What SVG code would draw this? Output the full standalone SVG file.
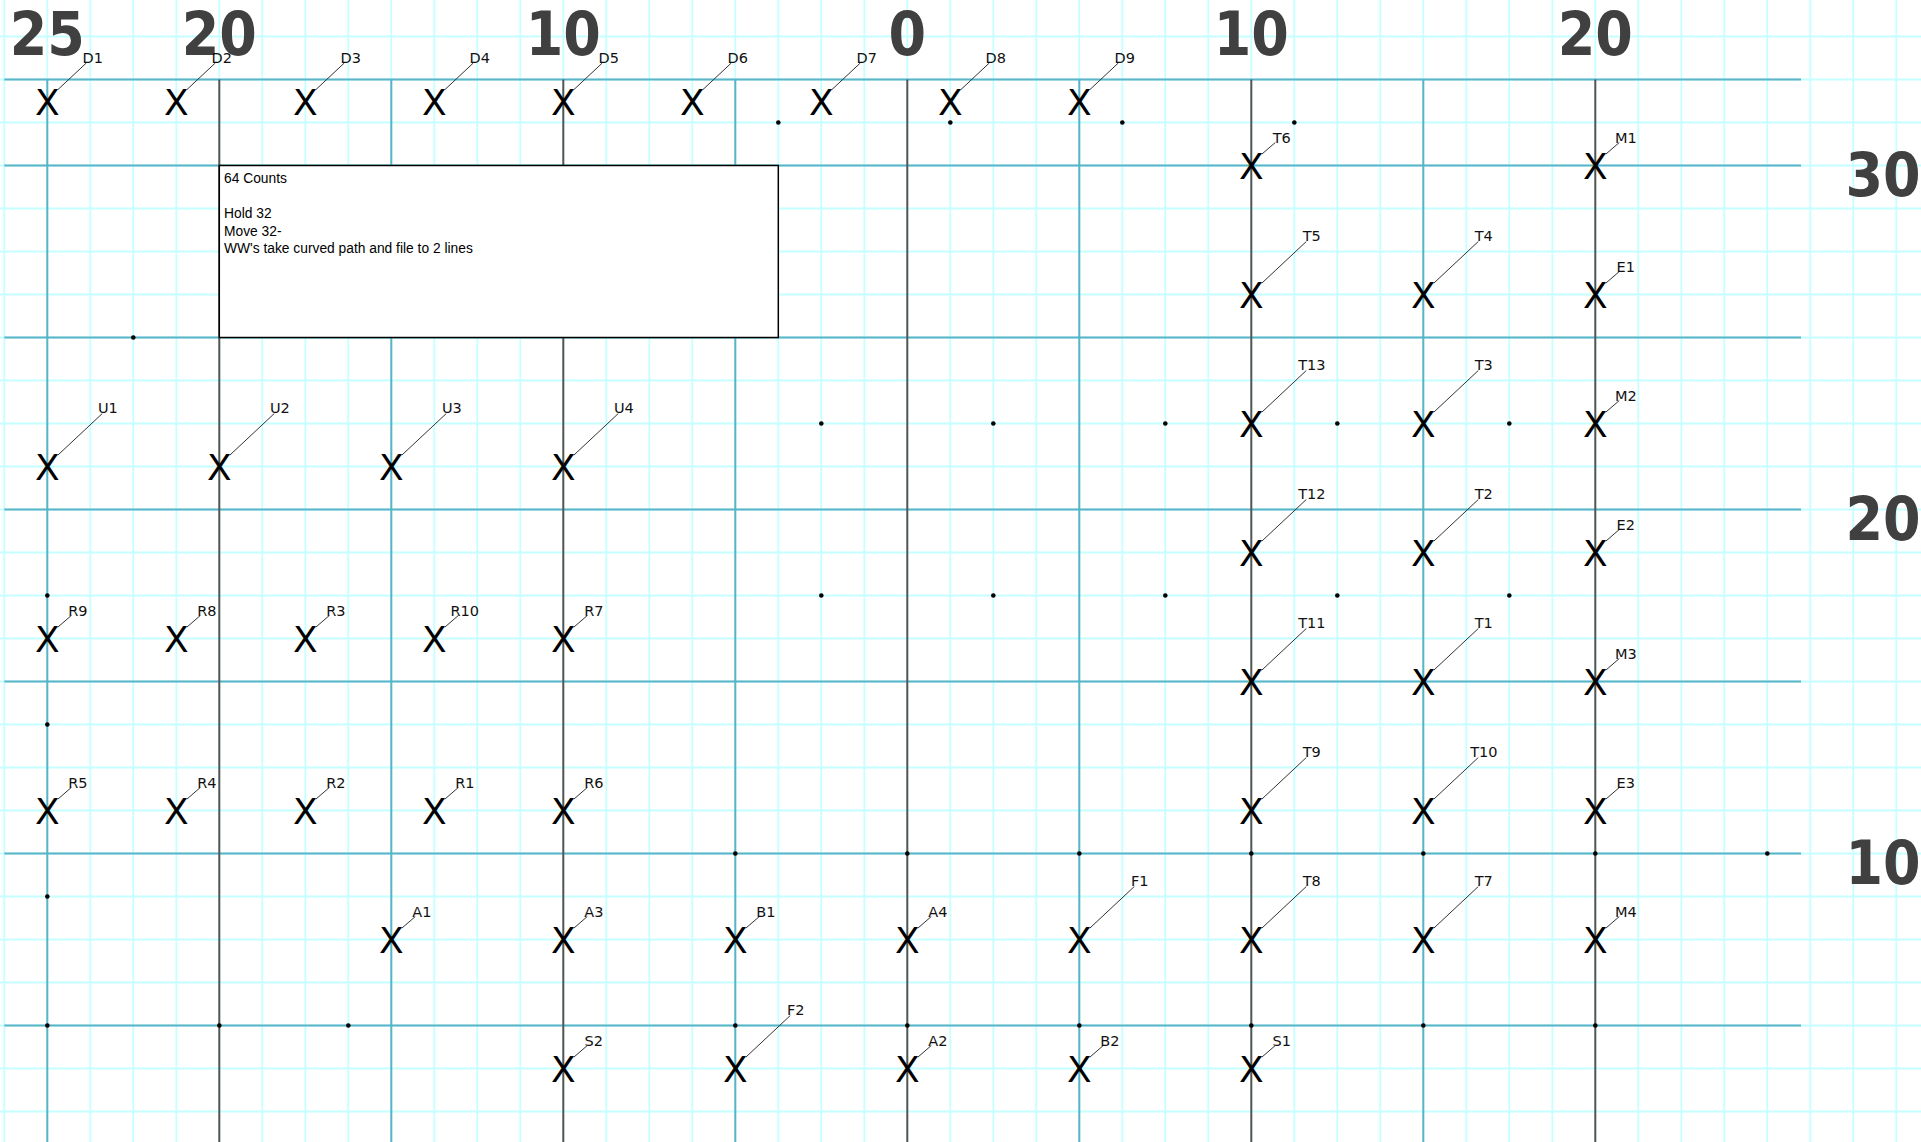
<svg xmlns="http://www.w3.org/2000/svg" xmlns:xlink="http://www.w3.org/1999/xlink" width="1921" height="1142" viewBox="0 0 1921 1142">
<style>
.minor{fill:none;stroke:#c6ffff;stroke-width:1.8}
.blue{fill:none;stroke:#5ab4c8;stroke-width:2}
.dark{fill:none;stroke:#555;stroke-width:2}
.num{font-family:"DejaVu Sans",sans-serif;font-weight:bold;font-size:60px;fill:#404040;text-anchor:middle}
.x{font-family:"DejaVu Sans",sans-serif;font-size:36px;fill:#000;text-anchor:middle}
.lb{font-family:"DejaVu Sans",sans-serif;font-size:14.5px;fill:#111;text-anchor:middle}
.ld{fill:none;stroke:#333;stroke-width:1}
.dot{fill:#000}
.note{font-family:"Liberation Sans",Arial,sans-serif;font-size:13.8px;fill:#000}
.box{fill:#fff;stroke:#000;stroke-width:1.5}
</style>
<defs>
<g id="mS"><text class="x" y="13.7">X</text><path class="ld" d="M10.5-11.3l13.5-11.7"/></g>
<g id="mM"><text class="x" y="13.7">X</text><path class="ld" d="M10.5-11.3l28.5-26.7"/></g>
<g id="mL"><text class="x" y="13.7">X</text><path class="ld" d="M10.5-11.3l44.5-41.7"/></g>
</defs>
<rect width="1921" height="1142" fill="#fff"/>
<g id="grid">
<path class="minor" d="M4.3 0v1142m43-1142v1142m43-1142v1142m43-1142v1142m43-1142v1142m43-1142v1142m43-1142v1142m43-1142v1142m43-1142v1142m43-1142v1142m43-1142v1142m43-1142v1142m43-1142v1142m43-1142v1142m43-1142v1142m43-1142v1142m43-1142v1142m43-1142v1142m43-1142v1142m43-1142v1142m43-1142v1142m43-1142v1142m43-1142v1142m43-1142v1142m43-1142v1142m43-1142v1142m43-1142v1142m43-1142v1142m43-1142v1142m43-1142v1142m43-1142v1142m43-1142v1142m43-1142v1142m43-1142v1142m43-1142v1142m43-1142v1142m43-1142v1142m43-1142v1142m43-1142v1142m43-1142v1142m43-1142v1142m43-1142v1142m43-1142v1142m43-1142v1142m43-1142v1142M0 36.5h1921m-1921 43h1921m-1921 43h1921m-1921 43h1921m-1921 43h1921m-1921 43h1921m-1921 43h1921m-1921 43h1921m-1921 43h1921m-1921 43h1921m-1921 43h1921m-1921 43h1921m-1921 43h1921m-1921 43h1921m-1921 43h1921m-1921 43h1921m-1921 43h1921m-1921 43h1921m-1921 43h1921m-1921 43h1921m-1921 43h1921m-1921 43h1921m-1921 43h1921m-1921 43h1921m-1921 43h1921m-1921 43h1921"/>
<path class="blue" d="M4.3 79.5H1801M4.3 165.5H1801M4.3 337.5H1801M4.3 509.5H1801M4.3 681.5H1801M4.3 853.5H1801M4.3 1025.5H1801"/>
<path class="blue" d="M47.3 79.5V1142M391.3 79.5V1142M735.3 79.5V1142M1079.3 79.5V1142M1423.3 79.5V1142"/>
<path class="dark" d="M219.3 79.5V1142M563.3 79.5V1142M907.3 79.5V1142M1251.3 79.5V1142M1595.3 79.5V1142"/>
</g>
<g id="numbers">
<text class="num" transform="translate(47.3 55) scale(0.9 1)">25</text>
<text class="num" transform="translate(219.3 55) scale(0.9 1)">20</text>
<text class="num" transform="translate(563.3 55) scale(0.9 1)">10</text>
<text class="num" transform="translate(907.3 55) scale(0.9 1)">0</text>
<text class="num" transform="translate(1251.3 55) scale(0.9 1)">10</text>
<text class="num" transform="translate(1595.3 55) scale(0.9 1)">20</text>
<text class="num" transform="translate(1883 195.5) scale(0.9 1)">30</text>
<text class="num" transform="translate(1883 539.5) scale(0.9 1)">20</text>
<text class="num" transform="translate(1883 883.5) scale(0.9 1)">10</text>
</g>
<g id="note">
<rect class="box" x="219.3" y="165.5" width="559" height="172"/>
<text class="note" x="224" y="183.3">64 Counts</text>
<text class="note" x="224" y="218.3">Hold 32</text>
<text class="note" x="224" y="235.8">Move 32-</text>
<text class="note" x="224" y="253.3">WW's take curved path and file to 2 lines</text>
</g>
<g id="dots" class="dot">
<circle cx="778.3" cy="122.5" r="2.3"/><circle cx="950.3" cy="122.5" r="2.3"/><circle cx="1122.3" cy="122.5" r="2.3"/><circle cx="1294.3" cy="122.5" r="2.3"/>
<circle cx="133.3" cy="337.5" r="2.3"/>
<circle cx="821.3" cy="423.5" r="2.3"/><circle cx="993.3" cy="423.5" r="2.3"/><circle cx="1165.3" cy="423.5" r="2.3"/><circle cx="1337.3" cy="423.5" r="2.3"/><circle cx="1509.3" cy="423.5" r="2.3"/>
<circle cx="47.3" cy="595.5" r="2.3"/><circle cx="821.3" cy="595.5" r="2.3"/><circle cx="993.3" cy="595.5" r="2.3"/><circle cx="1165.3" cy="595.5" r="2.3"/><circle cx="1337.3" cy="595.5" r="2.3"/><circle cx="1509.3" cy="595.5" r="2.3"/>
<circle cx="47.3" cy="724.5" r="2.3"/><circle cx="47.3" cy="896.5" r="2.3"/>
<circle cx="735.3" cy="853.5" r="2.3"/><circle cx="907.3" cy="853.5" r="2.3"/><circle cx="1079.3" cy="853.5" r="2.3"/><circle cx="1251.3" cy="853.5" r="2.3"/><circle cx="1423.3" cy="853.5" r="2.3"/><circle cx="1595.3" cy="853.5" r="2.3"/><circle cx="1767.3" cy="853.5" r="2.3"/>
<circle cx="47.3" cy="1025.5" r="2.3"/><circle cx="219.3" cy="1025.5" r="2.3"/><circle cx="348.3" cy="1025.5" r="2.3"/><circle cx="735.3" cy="1025.5" r="2.3"/><circle cx="907.3" cy="1025.5" r="2.3"/><circle cx="1079.3" cy="1025.5" r="2.3"/><circle cx="1251.3" cy="1025.5" r="2.3"/><circle cx="1423.3" cy="1025.5" r="2.3"/><circle cx="1595.3" cy="1025.5" r="2.3"/>
</g>
<g id="performers">
<g id="D1" transform="translate(47.3 101)"><use href="#mM"/><text class="lb" x="45.5" y="-38">D1</text></g>
<g id="D2" transform="translate(176.3 101)"><use href="#mM"/><text class="lb" x="45.5" y="-38">D2</text></g>
<g id="D3" transform="translate(305.3 101)"><use href="#mM"/><text class="lb" x="45.5" y="-38">D3</text></g>
<g id="D4" transform="translate(434.3 101)"><use href="#mM"/><text class="lb" x="45.5" y="-38">D4</text></g>
<g id="D5" transform="translate(563.3 101)"><use href="#mM"/><text class="lb" x="45.5" y="-38">D5</text></g>
<g id="D6" transform="translate(692.3 101)"><use href="#mM"/><text class="lb" x="45.5" y="-38">D6</text></g>
<g id="D7" transform="translate(821.3 101)"><use href="#mM"/><text class="lb" x="45.5" y="-38">D7</text></g>
<g id="D8" transform="translate(950.3 101)"><use href="#mM"/><text class="lb" x="45.5" y="-38">D8</text></g>
<g id="D9" transform="translate(1079.3 101)"><use href="#mM"/><text class="lb" x="45.5" y="-38">D9</text></g>
<g id="T6" transform="translate(1251.3 165.5)"><use href="#mS"/><text class="lb" x="30.5" y="-22.8">T6</text></g>
<g id="M1" transform="translate(1595.3 165.5)"><use href="#mS"/><text class="lb" x="30.5" y="-22.8">M1</text></g>
<g id="T5" transform="translate(1251.3 294.5)"><use href="#mL"/><text class="lb" x="60.5" y="-53.2">T5</text></g>
<g id="T4" transform="translate(1423.3 294.5)"><use href="#mL"/><text class="lb" x="60.5" y="-53.2">T4</text></g>
<g id="E1" transform="translate(1595.3 294.5)"><use href="#mS"/><text class="lb" x="30.5" y="-22.8">E1</text></g>
<g id="U1" transform="translate(47.3 466.5)"><use href="#mL"/><text class="lb" x="60.5" y="-53.2">U1</text></g>
<g id="U2" transform="translate(219.3 466.5)"><use href="#mL"/><text class="lb" x="60.5" y="-53.2">U2</text></g>
<g id="U3" transform="translate(391.3 466.5)"><use href="#mL"/><text class="lb" x="60.5" y="-53.2">U3</text></g>
<g id="U4" transform="translate(563.3 466.5)"><use href="#mL"/><text class="lb" x="60.5" y="-53.2">U4</text></g>
<g id="T13" transform="translate(1251.3 423.5)"><use href="#mL"/><text class="lb" x="60.5" y="-53.2">T13</text></g>
<g id="T3" transform="translate(1423.3 423.5)"><use href="#mL"/><text class="lb" x="60.5" y="-53.2">T3</text></g>
<g id="M2" transform="translate(1595.3 423.5)"><use href="#mS"/><text class="lb" x="30.5" y="-22.8">M2</text></g>
<g id="T12" transform="translate(1251.3 552.5)"><use href="#mL"/><text class="lb" x="60.5" y="-53.2">T12</text></g>
<g id="T2" transform="translate(1423.3 552.5)"><use href="#mL"/><text class="lb" x="60.5" y="-53.2">T2</text></g>
<g id="E2" transform="translate(1595.3 552.5)"><use href="#mS"/><text class="lb" x="30.5" y="-22.8">E2</text></g>
<g id="R9" transform="translate(47.3 638.5)"><use href="#mS"/><text class="lb" x="30.5" y="-22.8">R9</text></g>
<g id="R8" transform="translate(176.3 638.5)"><use href="#mS"/><text class="lb" x="30.5" y="-22.8">R8</text></g>
<g id="R3" transform="translate(305.3 638.5)"><use href="#mS"/><text class="lb" x="30.5" y="-22.8">R3</text></g>
<g id="R10" transform="translate(434.3 638.5)"><use href="#mS"/><text class="lb" x="30.5" y="-22.8">R10</text></g>
<g id="R7" transform="translate(563.3 638.5)"><use href="#mS"/><text class="lb" x="30.5" y="-22.8">R7</text></g>
<g id="T11" transform="translate(1251.3 681.5)"><use href="#mL"/><text class="lb" x="60.5" y="-53.2">T11</text></g>
<g id="T1" transform="translate(1423.3 681.5)"><use href="#mL"/><text class="lb" x="60.5" y="-53.2">T1</text></g>
<g id="M3" transform="translate(1595.3 681.5)"><use href="#mS"/><text class="lb" x="30.5" y="-22.8">M3</text></g>
<g id="R5" transform="translate(47.3 810.5)"><use href="#mS"/><text class="lb" x="30.5" y="-22.8">R5</text></g>
<g id="R4" transform="translate(176.3 810.5)"><use href="#mS"/><text class="lb" x="30.5" y="-22.8">R4</text></g>
<g id="R2" transform="translate(305.3 810.5)"><use href="#mS"/><text class="lb" x="30.5" y="-22.8">R2</text></g>
<g id="R1" transform="translate(434.3 810.5)"><use href="#mS"/><text class="lb" x="30.5" y="-22.8">R1</text></g>
<g id="R6" transform="translate(563.3 810.5)"><use href="#mS"/><text class="lb" x="30.5" y="-22.8">R6</text></g>
<g id="T9" transform="translate(1251.3 810.5)"><use href="#mL"/><text class="lb" x="60.5" y="-53.2">T9</text></g>
<g id="T10" transform="translate(1423.3 810.5)"><use href="#mL"/><text class="lb" x="60.5" y="-53.2">T10</text></g>
<g id="E3" transform="translate(1595.3 810.5)"><use href="#mS"/><text class="lb" x="30.5" y="-22.8">E3</text></g>
<g id="A1" transform="translate(391.3 939.5)"><use href="#mS"/><text class="lb" x="30.5" y="-22.8">A1</text></g>
<g id="A3" transform="translate(563.3 939.5)"><use href="#mS"/><text class="lb" x="30.5" y="-22.8">A3</text></g>
<g id="B1" transform="translate(735.3 939.5)"><use href="#mS"/><text class="lb" x="30.5" y="-22.8">B1</text></g>
<g id="A4" transform="translate(907.3 939.5)"><use href="#mS"/><text class="lb" x="30.5" y="-22.8">A4</text></g>
<g id="F1" transform="translate(1079.3 939.5)"><use href="#mL"/><text class="lb" x="60.5" y="-53.2">F1</text></g>
<g id="T8" transform="translate(1251.3 939.5)"><use href="#mL"/><text class="lb" x="60.5" y="-53.2">T8</text></g>
<g id="T7" transform="translate(1423.3 939.5)"><use href="#mL"/><text class="lb" x="60.5" y="-53.2">T7</text></g>
<g id="M4" transform="translate(1595.3 939.5)"><use href="#mS"/><text class="lb" x="30.5" y="-22.8">M4</text></g>
<g id="S2" transform="translate(563.3 1068.5)"><use href="#mS"/><text class="lb" x="30.5" y="-22.8">S2</text></g>
<g id="F2" transform="translate(735.3 1068.5)"><use href="#mL"/><text class="lb" x="60.5" y="-53.2">F2</text></g>
<g id="A2" transform="translate(907.3 1068.5)"><use href="#mS"/><text class="lb" x="30.5" y="-22.8">A2</text></g>
<g id="B2" transform="translate(1079.3 1068.5)"><use href="#mS"/><text class="lb" x="30.5" y="-22.8">B2</text></g>
<g id="S1" transform="translate(1251.3 1068.5)"><use href="#mS"/><text class="lb" x="30.5" y="-22.8">S1</text></g>
</g>
</svg>
